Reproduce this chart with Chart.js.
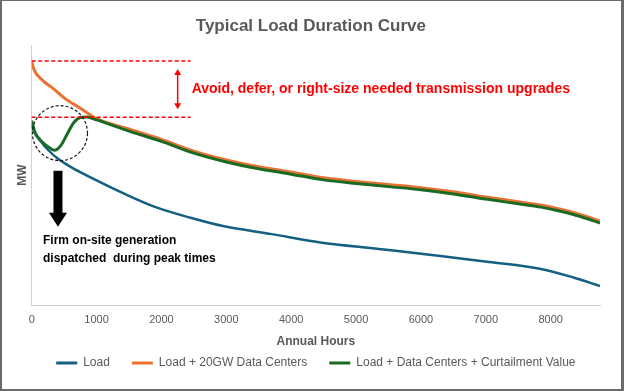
<!DOCTYPE html>
<html>
<head>
<meta charset="utf-8">
<script src="https://cdn.jsdelivr.net/npm/chart.js@4.4.0/dist/chart.umd.min.js"></script>
<style>
  html, body { margin: 0; padding: 0; background: #fff; }
  #wrap { position: relative; width: 624px; height: 391px; }
  #frame {
    position: absolute; left: 0; top: 0; width: 624px; height: 391px;
    box-sizing: border-box; pointer-events: none;
    border-style: solid; border-color: #6a6a6a;
    border-width: 1px 3px 2px 2px;
  }
</style>
</head>
<body>
<div id="wrap">
  <canvas id="chart"></canvas>
  <div id="frame"></div>
</div>
<script>
// ---- data (MW in relative units, 0-100) ----
const loadHours = [0, 50, 130, 250, 400, 600, 800, 1000, 1400, 1900, 2450, 2950, 3700, 4450, 5350, 6300, 7050, 7850, 8350, 8760];
const loadMW = [69.1, 66.2, 63.4, 59.8, 56.4, 53.2, 50.5, 48.0, 43.2, 37.8, 33.6, 30.4, 27.3, 24.1, 21.6, 18.9, 16.6, 13.9, 10.6, 7.3];

const dcHours = [0, 25, 60, 100, 200, 300, 500, 750, 1000, 1500, 2000, 2500, 3000, 3500, 4000, 4500, 5000, 5500, 6000, 6500, 7000, 7500, 7850, 8100, 8400, 8760];
const dcMW = [94.0, 91.5, 89.5, 88.2, 85.8, 84.0, 79.8, 75.8, 71.8, 67.8, 63.8, 59.3, 55.9, 53.3, 51.2, 49.0, 47.6, 46.4, 45.2, 43.6, 41.6, 39.8, 38.5, 37.2, 35.3, 32.4];

const curtHours = [0, 50, 100, 175, 250, 350, 450, 550, 650, 750, 850, 1000, 1500, 2000, 2500, 3000, 3500, 4000, 4500, 5000, 5500, 6000, 6500, 7000, 7500, 7850, 8100, 8400, 8760];
const curtMW = [71.0, 66.5, 64.5, 62.5, 61.0, 59.6, 61.5, 66.0, 70.3, 72.2, 72.4, 71.3, 67.0, 63.0, 58.5, 55.1, 52.5, 50.4, 48.2, 46.8, 45.6, 44.4, 42.8, 40.8, 39.0, 37.7, 36.4, 34.5, 31.6];

const seriesNames = ['Load', 'Load + 20GW Data Centers', 'Load + Data Centers + Curtailment Value'];
const xTicks = [0, 1000, 2000, 3000, 4000, 5000, 6000, 7000, 8000];

// annotation anchors, in chart units (hours / MW)
const peakMW = 94.0;
const curtailedPeakMW = 72.3;
const bracketEndHours = 2450;
const bracketArrowHours = 2250;
const dipCenter = { x: 436, y: 66.2 };
const firmArrow = { x: 405, top: 51.7, tip: 30.1 };
const firmTextAt = { x: 174, y: 24.7 };

const FONT = "'Liberation Sans', Arial, sans-serif";
const GREY = '#595959';

const zip = (xs, ys) => xs.map((x, i) => ({ x: x, y: ys[i] }));

/**
 * Center title and legend over the plot like the source chart
 */
const shiftPlugin = {
    id: 'shift',
    afterLayout(chart) {
        const mid = (chart.chartArea.left + chart.chartArea.right) / 2;
        const t = chart.titleBlock;
        const dt = mid - 5 - (t.left + t.right) / 2;
        t.left += dt; t.right += dt;
        const l = chart.legend;
        const dl = mid - (l.left + l.right) / 2;
        l.left += dl; l.right += dl;
    }
};

/**
 * Draw the red bracket, dashed circle and black arrow with their notes
 */
const notesPlugin = {
    id: 'notes',
    afterDatasetsDraw(chart) {
        const ctx = chart.ctx;
        const xs = chart.scales.x;
        const ys = chart.scales.y;
        const x0 = xs.getPixelForValue(0);
        const xEnd = xs.getPixelForValue(bracketEndHours);
        const yTop = ys.getPixelForValue(peakMW);
        const yLow = ys.getPixelForValue(curtailedPeakMW);

        ctx.save();

        // red dashed reference lines
        ctx.strokeStyle = '#ff0000';
        ctx.lineWidth = 1.5;
        ctx.setLineDash([4, 2.5]);
        [yTop, yLow].forEach(y => {
            ctx.beginPath();
            ctx.moveTo(x0, y);
            ctx.lineTo(xEnd, y);
            ctx.stroke();
        });
        ctx.setLineDash([]);

        // red double arrow
        const ax = xs.getPixelForValue(bracketArrowHours);
        const a1 = yTop + 8, a2 = yLow - 8;
        ctx.beginPath();
        ctx.moveTo(ax, a1 + 4);
        ctx.lineTo(ax, a2 - 4);
        ctx.stroke();
        ctx.fillStyle = '#ff0000';
        ctx.beginPath();
        ctx.moveTo(ax, a1); ctx.lineTo(ax - 3.5, a1 + 6); ctx.lineTo(ax + 3.5, a1 + 6);
        ctx.closePath(); ctx.fill();
        ctx.beginPath();
        ctx.moveTo(ax, a2); ctx.lineTo(ax - 3.5, a2 - 6); ctx.lineTo(ax + 3.5, a2 - 6);
        ctx.closePath(); ctx.fill();

        // red note
        ctx.font = 'bold 14px ' + FONT;
        ctx.textAlign = 'left';
        ctx.textBaseline = 'middle';
        ctx.fillText('Avoid, defer, or right-size needed transmission upgrades', xEnd + 1, (yTop + yLow) / 2);

        // dashed circle around the dip
        ctx.strokeStyle = '#1a1a1a';
        ctx.lineWidth = 1.2;
        ctx.setLineDash([3, 2]);
        ctx.beginPath();
        ctx.arc(xs.getPixelForValue(dipCenter.x), ys.getPixelForValue(dipCenter.y), 27.5, 0, Math.PI * 2);
        ctx.stroke();
        ctx.setLineDash([]);

        // black down arrow
        const bx = xs.getPixelForValue(firmArrow.x);
        const bTop = ys.getPixelForValue(firmArrow.top);
        const bTip = ys.getPixelForValue(firmArrow.tip);
        ctx.fillStyle = '#000';
        ctx.fillRect(bx - 4.5, bTop, 9, bTip - bTop - 13);
        ctx.beginPath();
        ctx.moveTo(bx - 9, bTip - 14);
        ctx.lineTo(bx + 9, bTip - 14);
        ctx.lineTo(bx, bTip);
        ctx.closePath();
        ctx.fill();

        // black note
        ctx.font = 'bold 12px ' + FONT;
        const tx = xs.getPixelForValue(firmTextAt.x);
        const ty = ys.getPixelForValue(firmTextAt.y);
        ctx.fillText('Firm on-site generation', tx, ty);
        ctx.fillText('dispatched  during peak times', tx, ty + 18);

        ctx.restore();
    }
};

const colors = ['#156082', '#E97132', '#196B24'];

new Chart(document.getElementById('chart'), {
    type: 'line',
    data: {
        datasets: [
            { label: seriesNames[0], data: zip(loadHours, loadMW), borderColor: colors[0], borderWidth: 2.5, order: 2 },
            { label: seriesNames[1], data: zip(dcHours, dcMW), borderColor: colors[1], borderWidth: 3, order: 1 },
            { label: seriesNames[2], data: zip(curtHours, curtMW), borderColor: colors[2], borderWidth: 3, order: 0 }
        ]
    },
    options: {
        responsive: true,
        maintainAspectRatio: false,
        animation: false,
        layout: { padding: { left: 4, right: 24, top: 0, bottom: 12 } },
        elements: {
            point: { radius: 0, hoverRadius: 0 },
            line: { cubicInterpolationMode: 'monotone', fill: false }
        },
        plugins: {
            tooltip: { enabled: false },
            title: {
                display: true,
                text: 'Typical Load Duration Curve',
                color: GREY,
                font: { family: FONT, size: 17, weight: 'bold' },
                padding: { top: 16, bottom: 9 }
            },
            legend: {
                position: 'bottom',
                labels: {
                    boxWidth: 21,
                    boxHeight: 3,
                    padding: 22,
                    color: GREY,
                    font: { family: FONT, size: 12 },
                    sort: (a, b) => a.datasetIndex - b.datasetIndex,
                    generateLabels: chart => chart.data.datasets.map((ds, i) => ({
                        text: ds.label,
                        fillStyle: ds.borderColor,
                        strokeStyle: ds.borderColor,
                        lineWidth: 0,
                        fontColor: GREY,
                        hidden: false,
                        datasetIndex: i
                    }))
                }
            }
        },
        scales: {
            x: {
                type: 'linear',
                min: 0,
                max: 8760,
                afterBuildTicks: scale => { scale.ticks = xTicks.map(v => ({ value: v })); },
                afterFit: scale => { scale.height = 30; },
                ticks: {
                    color: GREY,
                    font: { family: FONT, size: 11 },
                    padding: 8,
                    maxRotation: 0,
                    autoSkip: false,
                    callback: v => String(v)
                },
                grid: { display: false, drawTicks: false },
                border: { display: true, color: '#d0d0d0', width: 1 },
                title: {
                    display: true,
                    text: 'Annual Hours',
                    color: GREY,
                    font: { family: FONT, size: 12, weight: 'bold' },
                    padding: { top: 0, bottom: -14 }
                }
            },
            y: {
                min: 0,
                max: 100,
                afterFit: scale => { scale.width = 27.7; },
                ticks: { display: false },
                grid: { display: false, drawTicks: false },
                border: { display: true, color: '#d0d0d0', width: 1 },
                title: {
                    display: true,
                    text: 'MW',
                    color: GREY,
                    font: { family: FONT, size: 12, weight: 'bold' },
                    padding: { top: 11, bottom: 0 }
                }
            }
        }
    },
    plugins: [shiftPlugin, notesPlugin]
});
</script>
</body>
</html>
